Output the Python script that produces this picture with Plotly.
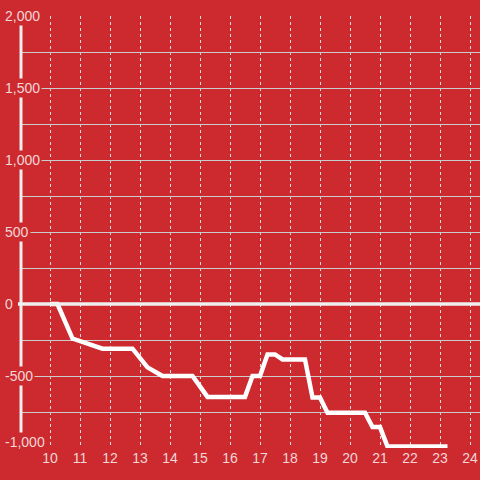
import plotly.graph_objects as go

hours = [10.0, 10.25, 10.75, 11.75, 12.75, 13.25, 13.75, 14.75, 15.25, 16.5, 16.75, 17.0,
         17.25, 17.5, 17.75, 18.5, 18.75, 19.0, 19.25, 20.5, 20.75, 21.0, 21.25, 23.25]
values = [0, 0, -240, -310, -310, -440, -500, -500, -645, -645, -500, -500,
          -350, -350, -385, -385, -650, -650, -755, -755, -855, -855, -990, -990]
x_ticks = list(range(10, 25))
y_ticks = [2000, 1500, 1000, 500, 0, -500, -1000]
y_tick_labels = ["2,000", "1,500", "1,000", "500", "0", "-500", "-1,000"]

BG = "rgb(204,42,47)"
TXT = "#f3d6d6"
FONT = "Liberation Sans, Arial, sans-serif"

fig = go.Figure()
fig.add_trace(go.Scatter(x=hours, y=values, mode="lines",
                         line=dict(color="white", width=4.5), hoverinfo="skip"))

W = 480 - 21
fig.update_layout(
    width=480, height=480,
    margin=dict(l=21, r=0, t=16, b=32),
    paper_bgcolor=BG, plot_bgcolor=BG,
    showlegend=False,
    font=dict(family=FONT, size=14, color=TXT),
    xaxis=dict(range=[10 - 29 / 30, 10 - 29 / 30 + W / 30], tickvals=x_ticks,
               showgrid=True, gridcolor="#dddddd", griddash="dot", gridwidth=1,
               zeroline=False, showline=False, ticks="",
               tickfont=dict(size=14, color=TXT, family=FONT)),
    yaxis=dict(range=[-1000, 2000], dtick=250, showticklabels=False,
               showgrid=True, gridcolor="#cccccc", gridwidth=1,
               zeroline=False, showline=False, ticks=""),
)

# bottom baseline begins at the first hour tick
fig.add_shape(type="line", xref="paper", yref="y", x0=-2 / W, x1=28.5 / W, y0=-1000, y1=-1000,
              line=dict(color=BG, width=3), layer="above")
fig.add_shape(type="line", xref="paper", yref="y", x0=0, x1=0, y0=-1000, y1=2000,
              line=dict(color="#eeeeee", width=3), layer="above")
fig.add_shape(type="line", xref="paper", yref="y", x0=-3 / W, x1=1, y0=0, y1=0,
              line=dict(color="#f0f0f0", width=3.5), layer="above")

for v, t in zip(y_ticks, y_tick_labels):
    fig.add_annotation(x=-18 / W, xref="paper", y=v, yref="y", text=t, showarrow=False,
                       xanchor="left", yanchor="middle", bgcolor=BG, borderpad=1,
                       yshift=6 if v == -1000 else 0,
                       font=dict(size=14, color=TXT, family=FONT))

fig.write_html("out.html", config={"displayModeBar": False},
               post_script="document.body.style.margin='0';")
